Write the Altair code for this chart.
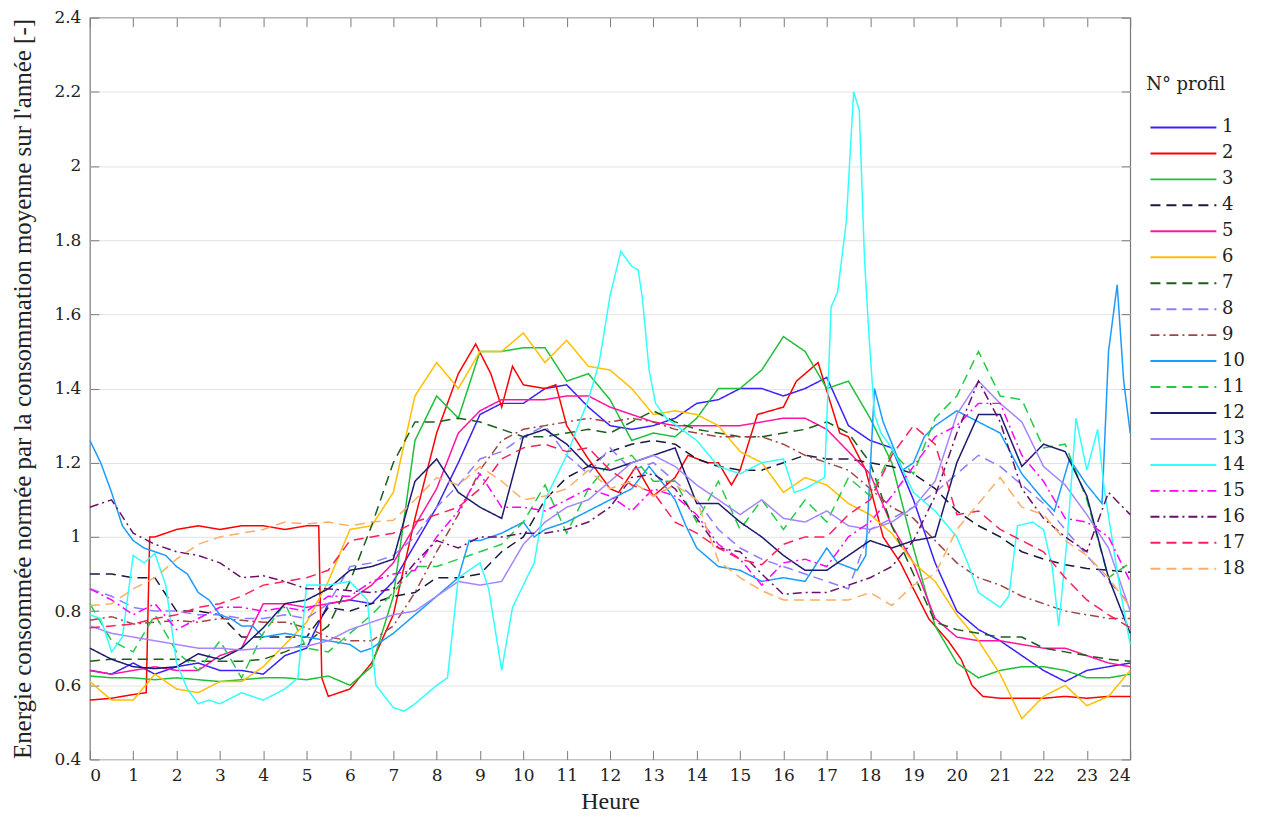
import altair as alt
import pandas as pd

# ---------------- data (hour grid every 30 min unless given) ----------------
HOURS = [i * 0.5 for i in range(49)]

P1 = [0.64, 0.63, 0.66, 0.63, 0.65, 0.66, 0.64, 0.64,
      0.63, 0.68, 0.70, 0.82, 0.83, 0.82, 0.88, 0.98,
      1.08, 1.20, 1.33, 1.36, 1.36, 1.40, 1.41, 1.35,
      1.30, 1.29, 1.30, 1.32, 1.36, 1.37, 1.40, 1.40,
      1.38, 1.40, 1.43, 1.30, 1.26, 1.24, 1.10, 0.93,
      0.80, 0.75, 0.72, 0.68, 0.64, 0.61, 0.64, 0.65,
      0.66]

P2_H = [0, 0.5, 1, 1.3, 1.38, 1.5, 2, 2.5, 3, 3.5, 4, 4.5, 5, 5.28, 5.35, 5.5, 6, 6.5, 7, 7.5,
        8, 8.5, 8.9, 9.25, 9.5, 9.75, 10, 10.5, 10.75, 11, 11.5, 12, 12.2, 12.6, 13, 13.5, 13.8,
        14.25, 14.5, 14.8, 15, 15.4, 16, 16.3, 16.8, 17.3, 17.5, 17.9, 18.3, 18.7, 19, 19.35,
        19.8, 20.1, 20.35, 20.6, 21, 21.5, 22, 22.5, 23, 23.5, 24]
P2_V = [0.56, 0.565, 0.575, 0.58, 1.0, 1.0, 1.02, 1.03, 1.02, 1.03, 1.03, 1.02, 1.03, 1.03, 0.62, 0.57, 0.59, 0.66, 0.79, 1.05,
        1.28, 1.44, 1.52, 1.44, 1.35, 1.46, 1.41, 1.40, 1.41, 1.30, 1.21, 1.13, 1.12, 1.19, 1.11, 1.16, 1.22,
        1.20, 1.20, 1.14, 1.18, 1.33, 1.35, 1.42, 1.47, 1.28, 1.27, 1.18, 1.00, 0.93, 0.86, 0.78,
        0.72, 0.67, 0.60, 0.57, 0.565, 0.565, 0.565, 0.57, 0.565, 0.57, 0.57]

P3 = [0.625, 0.62, 0.62, 0.615, 0.62, 0.615, 0.61, 0.615,
      0.62, 0.62, 0.615, 0.625, 0.60, 0.65, 0.84, 1.26,
      1.38, 1.32, 1.50, 1.50, 1.51, 1.51, 1.42, 1.44,
      1.37, 1.26, 1.28, 1.27, 1.32, 1.40, 1.40, 1.45,
      1.54, 1.50, 1.40, 1.42, 1.32, 1.20, 0.97, 0.76,
      0.66, 0.62, 0.64, 0.65, 0.65, 0.64, 0.62, 0.62,
      0.63]

P4 = [0.90, 0.90, 0.89, 0.89, 0.80, 0.80, 0.79, 0.73,
      0.73, 0.73, 0.73, 0.81, 0.80, 0.82, 0.84, 0.85,
      0.89, 0.89, 0.90, 0.96, 1.00, 1.10, 1.16, 1.19,
      1.23, 1.25, 1.26, 1.25, 1.21, 1.19, 1.18, 1.18,
      1.20, 1.22, 1.21, 1.21, 1.20, 1.19, 1.17, 1.13,
      1.07, 1.03, 1.00, 0.96, 0.94, 0.925, 0.915, 0.91,
      0.905]

P5 = [0.64, 0.63, 0.64, 0.65, 0.64, 0.64, 0.68, 0.70,
      0.82, 0.82, 0.81, 0.82, 0.83, 0.87, 0.93, 1.03,
      1.13, 1.28, 1.34, 1.37, 1.37, 1.37, 1.38, 1.38,
      1.35, 1.33, 1.31, 1.30, 1.30, 1.30, 1.30, 1.31,
      1.32, 1.32, 1.29, 1.23, 1.17, 1.03, 0.93, 0.78,
      0.73, 0.72, 0.72, 0.71, 0.70, 0.70, 0.68, 0.66,
      0.65]

P6 = [0.61, 0.56, 0.56, 0.63, 0.59, 0.58, 0.61, 0.61,
      0.65, 0.71, 0.77, 0.88, 1.02, 1.03, 1.12, 1.38,
      1.47, 1.40, 1.50, 1.50, 1.55, 1.47, 1.53, 1.46,
      1.45, 1.40, 1.33, 1.34, 1.33, 1.30, 1.23, 1.20,
      1.12, 1.16, 1.14, 1.09, 1.06, 1.01, 0.93, 0.88,
      0.79, 0.72, 0.63, 0.51, 0.57, 0.60, 0.545, 0.57,
      0.64]

P7 = [0.665, 0.67, 0.67, 0.67, 0.67, 0.665, 0.665, 0.665,
      0.67, 0.69, 0.715, 0.76, 0.88, 1.03, 1.20, 1.31,
      1.31, 1.32, 1.31, 1.29, 1.27, 1.27, 1.28, 1.29,
      1.28, 1.31, 1.34, 1.31, 1.29, 1.28, 1.27, 1.27,
      1.28, 1.29, 1.31, 1.28, 1.20, 1.03, 0.90, 0.77,
      0.75, 0.74, 0.73, 0.73, 0.70, 0.69, 0.68, 0.67,
      0.665]

P8 = [0.86, 0.84, 0.81, 0.80, 0.80, 0.79, 0.79, 0.78,
      0.78, 0.79, 0.78, 0.82, 0.92, 0.93, 0.95, 1.00,
      1.08, 1.14, 1.21, 1.23, 1.27, 1.30, 1.22, 1.17,
      1.24, 1.18, 1.20, 1.15, 1.10, 1.02, 0.97, 0.94,
      0.92, 0.90, 0.88, 0.86, 1.02, 1.05, 1.08, 1.12,
      1.17, 1.22, 1.19, 1.14, 1.09, 1.02, 0.95, 0.88,
      0.82]

P9 = [0.775, 0.785, 0.765, 0.77, 0.775, 0.77, 0.78, 0.775,
      0.77, 0.77, 0.755, 0.73, 0.72, 0.72, 0.76, 0.85,
      0.96, 1.06, 1.18, 1.26, 1.29, 1.30, 1.31, 1.32,
      1.31, 1.32, 1.31, 1.29, 1.28, 1.27, 1.27, 1.27,
      1.25, 1.22, 1.20, 1.18, 1.13, 1.08, 1.05, 0.99,
      0.93, 0.89, 0.87, 0.84, 0.82, 0.80, 0.79, 0.78,
      0.78]

P10_H = [0, 0.25, 0.5, 0.75, 1, 1.25, 1.5, 1.75, 2, 2.25, 2.5, 2.75, 3, 3.25, 3.5, 3.75, 4, 4.5, 5,
         5.5, 6, 6.25, 6.5, 7, 7.5, 8, 8.5, 8.75, 9, 9.5, 10, 10.25, 10.5, 11, 11.5, 12, 12.5, 12.9,
         13.25, 13.5, 13.75, 14, 14.5, 15, 15.5, 16, 16.5, 17, 17.25, 17.7, 17.9, 18.1, 18.3, 18.75,
         19, 19.25, 19.5, 20, 20.5, 21, 21.5, 22, 22.25, 22.6, 23, 23.35, 23.5, 23.7, 23.85, 24]
P10_V = [1.26, 1.20, 1.12, 1.03, 0.99, 0.97, 0.96, 0.95, 0.92, 0.90, 0.85, 0.83, 0.79, 0.78, 0.76, 0.76, 0.73, 0.74, 0.73,
         0.72, 0.71, 0.69, 0.70, 0.74, 0.79, 0.84, 0.89, 0.99, 0.99, 1.01, 1.04, 1.00, 1.02, 1.04, 1.07, 1.10, 1.13, 1.19,
         1.14, 1.10, 1.03, 0.97, 0.92, 0.91, 0.88, 0.89, 0.88, 0.97, 0.93, 0.91, 0.95, 1.40, 1.31, 1.18,
         1.20, 1.27, 1.30, 1.34, 1.31, 1.28, 1.17, 1.10, 1.07, 1.21, 1.14, 1.09, 1.50, 1.68, 1.42, 1.28]

P11 = [0.82, 0.72, 0.69, 0.79, 0.69, 0.64, 0.72, 0.62,
       0.74, 0.82, 0.70, 0.69, 0.74, 0.79, 0.85, 0.92,
       0.92, 0.94, 0.96, 0.98, 1.04, 1.14, 1.01, 1.13,
       1.20, 1.22, 1.15, 1.15, 1.04, 1.15, 1.02, 1.10,
       1.02, 1.10, 1.04, 1.16, 1.11, 1.23, 1.17, 1.32,
       1.38, 1.50, 1.38, 1.37, 1.24, 1.25, 1.10, 0.89,
       0.93]

P12 = [0.70, 0.67, 0.65, 0.645, 0.65, 0.685, 0.67, 0.70,
       0.755, 0.82, 0.83, 0.86, 0.91, 0.92, 0.94, 1.15,
       1.21, 1.12, 1.08, 1.05, 1.27, 1.29, 1.25, 1.19,
       1.18, 1.20, 1.22, 1.24, 1.09, 1.09, 1.04, 1.00,
       0.95, 0.91, 0.91, 0.95, 0.99, 0.97, 0.99, 1.00,
       1.20, 1.33, 1.33, 1.19, 1.25, 1.23, 1.11, 0.89,
       0.74]

P13 = [0.76, 0.74, 0.73, 0.72, 0.71, 0.70, 0.70, 0.695,
       0.70, 0.70, 0.705, 0.72, 0.75, 0.77, 0.79, 0.80,
       0.84, 0.88, 0.87, 0.88, 0.98, 1.04, 1.08, 1.10,
       1.15, 1.20, 1.22, 1.19, 1.14, 1.10, 1.06, 1.10,
       1.05, 1.04, 1.07, 1.03, 1.02, 1.04, 1.08, 1.15,
       1.33, 1.42, 1.36, 1.31, 1.19, 1.14, 1.06, 0.97,
       0.80]

P14_H = [0, 0.25, 0.5, 0.75, 1, 1.25, 1.5, 1.75, 2, 2.25, 2.5, 2.75, 3, 3.5, 4, 4.5, 4.8, 5, 5.5, 6,
         6.4, 6.6, 7, 7.25, 7.5, 8, 8.25, 8.5, 9, 9.2, 9.5, 9.75, 10, 10.25, 10.5, 10.75, 11, 11.5,
         11.75, 12, 12.25, 12.5, 12.65, 12.75, 12.9, 13.05, 13.3, 14, 14.5, 15, 15.5, 16, 16.25, 16.5,
         16.95, 17.1, 17.25, 17.45, 17.62, 17.75, 17.87, 17.97, 18.1, 18.25, 18.5, 19, 19.5, 20, 20.25,
         20.5, 21, 21.2, 21.4, 21.75, 22, 22.2, 22.35, 22.55, 22.75, 23, 23.25, 23.4, 23.75, 24]
P14_V = [0.79, 0.78, 0.69, 0.73, 0.95, 0.93, 0.955, 0.87, 0.66, 0.59, 0.55, 0.56, 0.55, 0.58, 0.56, 0.59, 0.62, 0.87, 0.87, 0.88,
         0.83, 0.60, 0.54, 0.53, 0.55, 0.60, 0.62, 0.89, 0.93, 0.86, 0.64, 0.81, 0.87, 0.93, 1.10, 1.16, 1.22, 1.37,
         1.47, 1.65, 1.77, 1.73, 1.72, 1.64, 1.45, 1.36, 1.32, 1.26, 1.19, 1.17, 1.20, 1.21, 1.12, 1.13,
         1.16, 1.62, 1.66, 1.85, 2.20, 2.15, 1.75, 1.55, 1.33, 1.28, 1.24, 1.12, 1.07, 1.00, 0.93,
         0.85, 0.81, 0.84, 1.03, 1.04, 1.02, 0.92, 0.76, 1.00, 1.32, 1.18, 1.29, 1.13, 0.87, 0.71]

P15 = [0.86, 0.83, 0.79, 0.82, 0.75, 0.78, 0.81, 0.81,
       0.80, 0.81, 0.80, 0.84, 0.84, 0.88, 0.90, 0.91,
       1.00, 1.07, 1.17, 1.08, 1.08, 1.07, 1.10, 1.13,
       1.11, 1.07, 1.13, 1.11, 1.06, 0.98, 0.94, 0.87,
       0.93, 0.94, 0.92, 1.00, 1.04, 1.11, 1.19, 1.27,
       1.30, 1.36, 1.36, 1.22, 1.15, 1.05, 1.04, 1.00,
       0.88]

P16 = [1.08, 1.10, 1.01, 0.98, 0.96, 0.95, 0.93, 0.89,
       0.895, 0.88, 0.86, 0.86, 0.855, 0.85, 0.86, 0.93,
       0.99, 0.97, 1.00, 1.00, 1.01, 1.01, 1.02, 1.04,
       1.08, 1.16, 1.17, 1.13, 1.05, 0.97, 0.96, 0.90,
       0.845, 0.85, 0.85, 0.87, 0.89, 0.92, 0.99, 1.11,
       1.28, 1.42, 1.31, 1.13, 1.05, 1.00, 0.96, 1.12,
       1.06]

P17 = [0.755, 0.76, 0.765, 0.78, 0.79, 0.81, 0.82, 0.84,
       0.87, 0.88, 0.89, 0.91, 0.99, 1.00, 1.01, 1.04,
       1.06, 1.08, 1.13, 1.21, 1.24, 1.25, 1.23, 1.24,
       1.18, 1.14, 1.12, 1.04, 1.01, 0.97, 0.94, 0.925,
       0.98, 1.00, 1.00, 1.06, 1.10, 1.22, 1.30, 1.25,
       1.06, 1.07, 1.02, 0.99, 0.96, 0.89, 0.83, 0.79,
       0.755]

P18 = [0.815, 0.82, 0.86, 0.89, 0.94, 0.98, 1.00, 1.01,
       1.02, 1.04, 1.035, 1.04, 1.03, 1.04, 1.045, 1.10,
       1.16, 1.14, 1.19, 1.15, 1.10, 1.11, 1.13, 1.18,
       1.13, 1.15, 1.11, 1.14, 1.10, 0.935, 0.89, 0.855,
       0.83, 0.83, 0.83, 0.83, 0.85, 0.815, 0.87, 0.90,
       1.02, 1.09, 1.16, 1.08, 1.06, 0.99, 0.95, 0.89,
       0.81]

NAMES = [str(i) for i in range(1, 19)]
COLORS = ["#3a20ff", "#ff0000", "#1ebf3a", "#1a1a3a", "#ff14a0", "#ffbf00",
          "#1a5e1a", "#8c7dff", "#a04545", "#1a9cff", "#22cc44", "#1a1a6e",
          "#a585ff", "#33ffff", "#ff00ff", "#6b0f6b", "#ff1f5a", "#ffad66"]
SOLID = [1, 0]
DASH = [10, 6]
DASHDOT = [9, 4, 2, 4]
DASHES = [SOLID, SOLID, SOLID, DASH, SOLID, SOLID, DASH, DASH, DASHDOT,
          SOLID, DASH, SOLID, SOLID, SOLID, DASHDOT, DASHDOT, DASH, DASH]

SERIES = {
    "1": (HOURS, P1), "2": (P2_H, P2_V), "3": (HOURS, P3), "4": (HOURS, P4),
    "5": (HOURS, P5), "6": (HOURS, P6), "7": (HOURS, P7), "8": (HOURS, P8),
    "9": (HOURS, P9), "10": (P10_H, P10_V), "11": (HOURS, P11), "12": (HOURS, P12),
    "13": (HOURS, P13), "14": (P14_H, P14_V), "15": (HOURS, P15), "16": (HOURS, P16),
    "17": (HOURS, P17), "18": (HOURS, P18),
}

rows = []
for k, (hs, vs) in SERIES.items():
    n = min(len(hs), len(vs))
    for h, v in zip(hs[:n], vs[:n]):
        rows.append({"Heure": h, "val": v, "profil": k})
df = pd.DataFrame(rows)

Y_TICKS = [round(0.4 + 0.2 * i, 1) for i in range(11)]
X_TICKS = list(range(25))

W, H = 1042, 743
GRAY = "#7a7a7a"
TICK_FONT = "DejaVu Serif"
TITLE_FONT = "Liberation Serif"

xs = alt.Scale(domain=[0, 24], nice=False, zero=False)
ys = alt.Scale(domain=[0.4, 2.4], nice=False, zero=False)

lines = alt.Chart(df).mark_line(strokeWidth=1.5).encode(
    x=alt.X("Heure:Q", scale=xs, axis=alt.Axis(
        values=X_TICKS, title="Heure", ticks=False, grid=False, domain=False,
        labelFont=TICK_FONT, labelFontSize=17, labelColor="#222", labelPadding=8,
        titleFont=TITLE_FONT, titleFontSize=24, titleFontWeight="normal",
        titleColor="#222", titlePadding=6)),
    y=alt.Y("val:Q", scale=ys, axis=alt.Axis(
        values=Y_TICKS, format="~g", title="Energie consommée normée par la consommation moyenne sur l'année [-]",
        ticks=False, grid=True, gridColor="#e3e3e3", gridWidth=1, domain=False,
        labelFont=TICK_FONT, labelFontSize=17, labelColor="#222", labelPadding=9,
        titleFont=TITLE_FONT, titleFontSize=25, titleFontWeight="normal",
        titleColor="#222", titlePadding=18)),
    color=alt.Color("profil:N", scale=alt.Scale(domain=NAMES, range=COLORS),
                    legend=alt.Legend(
                        title="N° profil", orient="none", legendX=1058, legendY=58,
                        symbolType="M-0.7,0H5.3", symbolSize=484, symbolStrokeWidth=2,
                        labelFont=TICK_FONT, labelFontSize=18, labelColor="#222",
                        titleFont=TICK_FONT, titleFontSize=18, titleFontWeight="normal",
                        titleColor="#222", rowPadding=5, titlePadding=22, labelOffset=52,
                        labelLimit=80)),
    strokeDash=alt.StrokeDash("profil:N", scale=alt.Scale(domain=NAMES, range=DASHES),
                              legend=alt.Legend(title="N° profil")),
    order=alt.Order("Heure:Q"),
)

ghost = alt.Chart(df).mark_line(opacity=0)


def tick_axis(orient, offset, values):
    return alt.Axis(orient=orient, offset=offset, labels=False, title=None, grid=False,
                    domain=False, ticks=True, tickSize=9, tickColor=GRAY, tickWidth=1,
                    values=values)


t_left = ghost.encode(x=alt.X("Heure:Q", scale=xs, axis=None),
                      y=alt.Y("val:Q", scale=ys, axis=tick_axis("right", -W, Y_TICKS)))
t_right = ghost.encode(x=alt.X("Heure:Q", scale=xs, axis=None),
                       y=alt.Y("val:Q", scale=ys, axis=tick_axis("left", -W, Y_TICKS)))
t_bottom = ghost.encode(y=alt.Y("val:Q", scale=ys, axis=None),
                        x=alt.X("Heure:Q", scale=xs, axis=tick_axis("top", -H, X_TICKS)))
t_top = ghost.encode(y=alt.Y("val:Q", scale=ys, axis=None),
                     x=alt.X("Heure:Q", scale=xs, axis=tick_axis("bottom", -H, X_TICKS)))

chart = alt.layer(lines, t_left, t_right, t_bottom, t_top).resolve_axis(
    x="independent", y="independent"
).properties(
    width=W, height=H,
    autosize=alt.AutoSizeParams(type="none"),
    padding={"left": 82, "top": 9, "right": 125, "bottom": 58},
).configure_view(stroke=GRAY, strokeWidth=1.2)

chart.save("out.html", embed_options={"renderer": "svg", "actions": False})
